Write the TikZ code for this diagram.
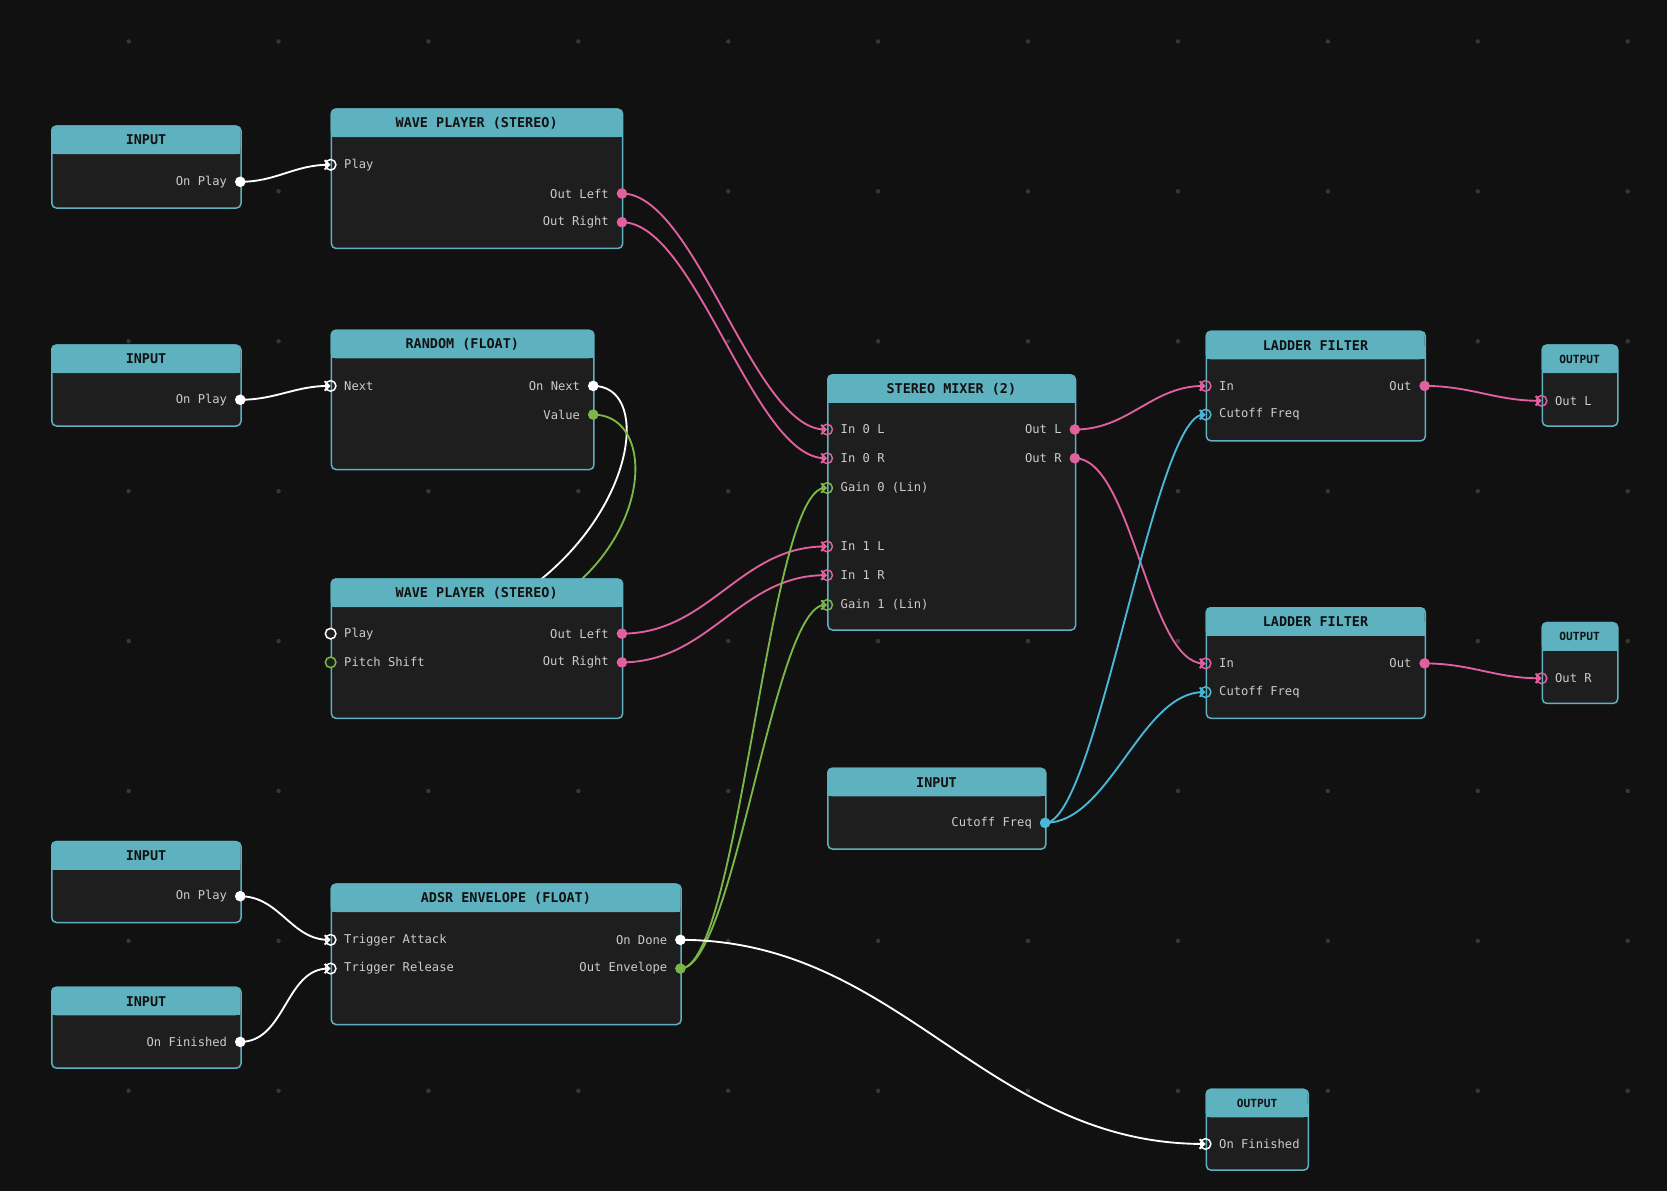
\documentclass[tikz,border=0pt]{standalone}
\usepackage{fontspec}
\setmonofont{DejaVu Sans Mono}
\usetikzlibrary{arrows.meta}
\definecolor{bg}{HTML}{111111}
\definecolor{bodyc}{HTML}{1E1E1E}
\definecolor{teal}{HTML}{5EB2C0}
\definecolor{txt}{HTML}{CCCCCC}
\definecolor{pinkc}{HTML}{E060A0}
\definecolor{greenc}{HTML}{7AB648}
\definecolor{cyanc}{HTML}{4AB8D8}
\pgfdeclarelayer{back}
\pgfdeclarelayer{wires}
\pgfsetlayers{back,wires,main}
\tikzset{
  body/.style={rectangle, draw=teal, line width=0.8pt, fill=bodyc, rounded corners=2.5pt, inner sep=0pt, anchor=north west},
  head/.style={rectangle, inner sep=0pt, minimum height=0.54cm, anchor=north west,
    font=\ttfamily\bfseries\fontsize{7.2}{8}\selectfont, text=bg},
  lbl/.style={font=\ttfamily\fontsize{6.5}{8}\selectfont, text=txt, label distance=0.5pt},
  opin/.style={circle, fill=#1, inner sep=0pt, minimum size=0.2cm},
  ipin/.style={circle, draw=#1, line width=0.8pt, inner sep=0pt, minimum size=0.2cm},
  wire/.style={line width=1pt, draw=#1, -{Straight Barb[length=2.5pt,width=5pt]}}
}
\newcommand\block[6]{%
  \node[body, minimum width=#4*0.02cm, minimum height=#5*0.02cm] (#1) at (#2,#3) {};
  \fill[teal, rounded corners=2.5pt] (#2,#3) rectangle ++(#4,27);
  \fill[teal] (#2,#3+14) rectangle ++(#4,13);
  \node[head, minimum width=#4*0.02cm] (#1h) at (#2,#3) {#6};}
\begin{document}
\begin{tikzpicture}[x=0.02cm, y=-0.02cm]
  \begin{pgfonlayer}{back}
    \fill[bg] (0,0) rectangle (1568,1120);
    \foreach \x in {121,262,...,1532}
      \foreach \y in {39,180,...,1026}
        \fill[white!16!bg] (\x,\y) circle (1.2pt);
  \end{pgfonlayer}
  \useasboundingbox (0,0) rectangle (1568,1120);

  % Blocks
  \block{inA}{48}{118}{178}{77}{INPUT}
  \block{wpA}{311}{102}{274}{131}{WAVE PLAYER (STEREO)}
  \block{inB}{48}{324}{178}{76}{INPUT}
  \block{rnd}{311}{310}{247}{131}{RANDOM (FLOAT)}
  \block{wpB}{311}{544}{274}{131}{WAVE PLAYER (STEREO)}
  \block{inC}{48}{791}{178}{76}{INPUT}
  \block{inD}{48}{928}{178}{76}{INPUT}
  \block{adsr}{311}{831}{329}{132}{ADSR ENVELOPE (FLOAT)}
  \block{mix}{778}{352}{233}{240}{STEREO MIXER (2)}
  \block{inE}{778}{722}{205}{76}{INPUT}
  \block{lfA}{1134}{311}{206}{103}{LADDER FILTER}
  \block{lfB}{1134}{571}{206}{104}{LADDER FILTER}
  \tikzset{head/.append style={font=\ttfamily\bfseries\fontsize{6}{7}\selectfont}}
  \block{outA}{1450}{324}{71}{76}{OUTPUT}
  \block{outB}{1450}{585}{71}{76}{OUTPUT}
  \block{outC}{1134}{1024}{96}{76}{OUTPUT}

  % Pins
  \node[opin=white, label={[lbl]left:On Play}] (inAp) at (226,171) {};
  \node[ipin=white, label={[lbl]right:Play}] (wpAplay) at (311,155) {};
  \node[opin=pinkc, label={[lbl]left:Out Left}] (wpAl) at (585,182) {};
  \node[opin=pinkc, label={[lbl]left:Out Right}] (wpAr) at (585,209) {};
  \node[opin=white, label={[lbl]left:On Play}] (inBp) at (226,376) {};
  \node[ipin=white, label={[lbl]right:Next}] (rndnext) at (311,363) {};
  \node[opin=white, label={[lbl]left:On Next}] (rndon) at (558,363) {};
  \node[opin=greenc, label={[lbl]left:Value}] (rndval) at (558,390) {};
  \node[ipin=white, fill=bodyc, label={[lbl]right:Play}] (wpBplay) at (311,596) {};
  \node[ipin=greenc, fill=bodyc, label={[lbl]right:Pitch Shift}] (wpBpitch) at (311,623) {};
  \node[opin=pinkc, label={[lbl]left:Out Left}] (wpBl) at (585,596) {};
  \node[opin=pinkc, label={[lbl]left:Out Right}] (wpBr) at (585,623) {};
  \node[opin=white, label={[lbl]left:On Play}] (inCp) at (226,843) {};
  \node[opin=white, label={[lbl]left:On Finished}] (inDf) at (226,980) {};
  \node[ipin=white, label={[lbl]right:Trigger Attack}] (adsratt) at (311,884) {};
  \node[ipin=white, label={[lbl]right:Trigger Release}] (adsrrel) at (311,911) {};
  \node[opin=white, label={[lbl]left:On Done}] (adsrdone) at (640,884) {};
  \node[opin=greenc, label={[lbl]left:Out Envelope}] (adsrenv) at (640,911) {};
  \node[ipin=pinkc, label={[lbl]right:In 0 L}] (mixa) at (778,404) {};
  \node[ipin=pinkc, label={[lbl]right:In 0 R}] (mixb) at (778,431) {};
  \node[ipin=greenc, label={[lbl]right:Gain 0 (Lin)}] (mixg) at (778,459) {};
  \node[ipin=pinkc, label={[lbl]right:In 1 L}] (mixc) at (778,514) {};
  \node[ipin=pinkc, label={[lbl]right:In 1 R}] (mixd) at (778,541) {};
  \node[ipin=greenc, label={[lbl]right:Gain 1 (Lin)}] (mixh) at (778,569) {};
  \node[opin=pinkc, label={[lbl]left:Out L}] (mixl) at (1011,404) {};
  \node[opin=pinkc, label={[lbl]left:Out R}] (mixr) at (1011,431) {};
  \node[opin=cyanc, label={[lbl]left:Cutoff Freq}] (inEc) at (983,774) {};
  \node[ipin=pinkc, label={[lbl]right:In}] (lfAin) at (1134,363) {};
  \node[ipin=cyanc, label={[lbl]right:Cutoff Freq}] (lfAcut) at (1134,390) {};
  \node[opin=pinkc, label={[lbl]left:Out}] (lfAout) at (1340,363) {};
  \node[ipin=pinkc, label={[lbl]right:In}] (lfBin) at (1134,624) {};
  \node[ipin=cyanc, label={[lbl]right:Cutoff Freq}] (lfBcut) at (1134,651) {};
  \node[opin=pinkc, label={[lbl]left:Out}] (lfBout) at (1340,624) {};
  \node[ipin=pinkc, label={[lbl]right:Out L}] (outAin) at (1450,377) {};
  \node[ipin=pinkc, label={[lbl]right:Out R}] (outBin) at (1450,638) {};
  \node[ipin=white, label={[lbl]right:On Finished}] (outCin) at (1134,1076) {};

  % Wires
  \begin{pgfonlayer}{wires}
    \draw[wire=white] (inAp.center) to[out=0, in=180] (wpAplay.center);
    \draw[wire=white] (inBp.center) to[out=0, in=180] (rndnext.center);
    \draw[wire=white] (rndon.center) .. controls (610,363) and (600,470) .. (510,544)
      .. controls (470,580) .. (wpBplay.center);
    \draw[wire=greenc] (rndval.center) .. controls (610,390) and (615,480) .. (548,544)
      .. controls (500,600) .. (wpBpitch.center);
    \draw[wire=pinkc] (wpAl.center) to[out=0, in=180, looseness=0.6] (mixa.center);
    \draw[wire=pinkc] (wpAr.center) to[out=0, in=180, looseness=0.6] (mixb.center);
    \draw[wire=pinkc] (wpBl.center) to[out=0, in=180] (mixc.center);
    \draw[wire=pinkc] (wpBr.center) to[out=0, in=180] (mixd.center);
    \draw[wire=white] (inCp.center) to[out=0, in=180] (adsratt.center);
    \draw[wire=white] (inDf.center) to[out=0, in=180] (adsrrel.center);
    \draw[wire=greenc] (adsrenv.center) to[out=0, in=180, looseness=0.3] (mixg.center);
    \draw[wire=greenc] (adsrenv.center) to[out=0, in=180, looseness=0.35] (mixh.center);
    \draw[wire=white] (adsrdone.center) to[out=0, in=180] (outCin.center);
    \draw[wire=pinkc] (mixl.center) to[out=0, in=180] (lfAin.center);
    \draw[wire=pinkc] (mixr.center) to[out=0, in=180, looseness=0.6] (lfBin.center);
    \draw[wire=cyanc] (inEc.center) to[out=0, in=180, looseness=0.3] (lfAcut.center);
    \draw[wire=cyanc] (inEc.center) to[out=0, in=180, looseness=0.8] (lfBcut.center);
    \draw[wire=pinkc] (lfAout.center) to[out=0, in=180] (outAin.center);
    \draw[wire=pinkc] (lfBout.center) to[out=0, in=180] (outBin.center);
  \end{pgfonlayer}
\end{tikzpicture}
\end{document}
